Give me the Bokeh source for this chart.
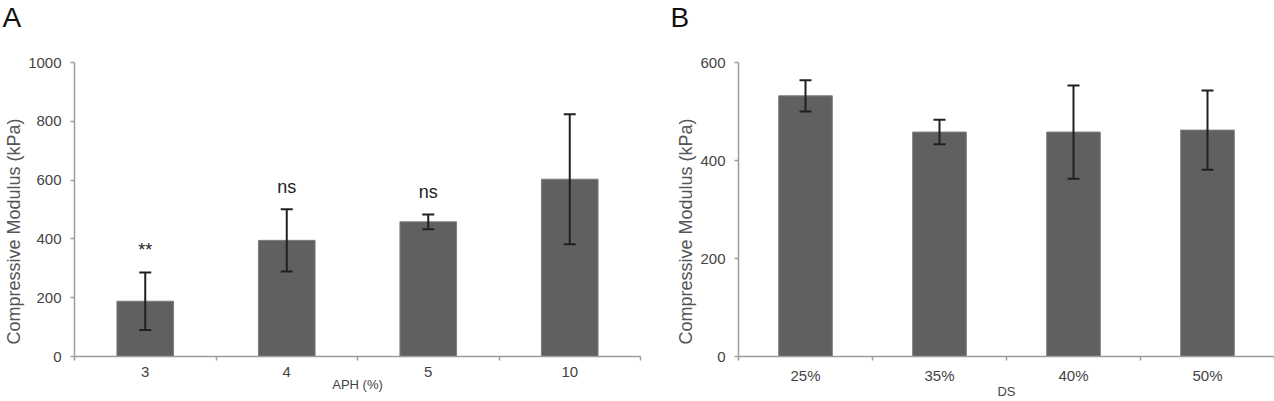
from bokeh.core.properties import value
from bokeh.embed import file_html
from bokeh.layouts import row
from bokeh.models import ColumnDataSource, FixedTicker, Range1d, TeeHead, Title, Whisker
from bokeh.plotting import figure
from bokeh.resources import INLINE

# Panel A: compressive modulus against APH concentration
aph_labels = ["3", "4", "5", "10"]
aph_modulus = [188, 395, 458, 603]
aph_sd = [98, 106, 25, 221]
aph_sig = ["**", "ns", "ns", ""]
aph_y_ticks = [0, 200, 400, 600, 800, 1000]

# Panel B: compressive modulus against DS
ds_labels = ["25%", "35%", "40%", "50%"]
ds_modulus = [532, 458, 458, 462]
ds_sd = [32, 25, 95, 81]
ds_y_ticks = [0, 200, 400, 600]

FONT = "Liberation Sans"
BAR_FILL = "#606060"
BAR_EDGE = "#7c7c7c"
AXIS_GREY = "#9c9c9c"
TICK_TEXT = "#444444"
ERR_COLOR = "#202020"

HEIGHT = 401
BORDER_TOP = 62
BORDER_BOTTOM = 44


def panel(letter, labels, means, sds, y_max, y_ticks, x_title, width,
          border_left, border_right, letter_x, sig=None):
    n = len(labels)
    centers = [i + 0.5 for i in range(n)]

    p = figure(width=width, height=HEIGHT,
               x_range=Range1d(0, n), y_range=Range1d(0, y_max),
               output_backend="svg", toolbar_location=None,
               min_border_left=border_left, min_border_right=border_right,
               min_border_top=BORDER_TOP, min_border_bottom=BORDER_BOTTOM)
    p.outline_line_color = None
    p.xgrid.visible = False
    p.ygrid.visible = False
    p.background_fill_color = "white"
    p.border_fill_color = "white"

    # panel letter in the top-left corner; the blank second line lifts it
    # towards the top edge of the title band
    p.title.text = letter + "\n "
    p.title.align = "left"
    p.title.offset = letter_x - border_left
    p.title.standoff = 0
    p.title.text_line_height = 0.95
    p.title.text_font = FONT
    p.title.text_font_size = "28px"
    p.title.text_font_style = "normal"
    p.title.text_color = "#111111"

    src = ColumnDataSource(dict(
        x=centers, top=means,
        upper=[m + s for m, s in zip(means, sds)],
        lower=[m - s for m, s in zip(means, sds)],
    ))
    p.vbar(x="x", top="top", bottom=0, width=0.4, source=src,
           fill_color=BAR_FILL, line_color=BAR_EDGE, line_width=1)

    head = dict(size=12, line_color=ERR_COLOR, line_width=2)
    whisk = Whisker(source=src, base="x", upper="upper", lower="lower",
                    line_color=ERR_COLOR, line_width=2,
                    upper_head=TeeHead(**head), lower_head=TeeHead(**head))
    whisk.level = "annotation"
    p.add_layout(whisk)

    if sig is not None:
        p.text(x=centers, y=src.data["upper"], text=sig,
               text_align="center", text_baseline="alphabetic", y_offset=-22,
               text_font=value(FONT), text_font_size="18px", text_color="#222222")

    # x axis: category names centred, tick marks on the category boundaries
    xa = p.xaxis[0]
    xa.ticker = FixedTicker(ticks=centers, minor_ticks=list(range(n + 1)))
    xa.major_label_overrides = {c: lab for c, lab in zip(centers, labels)}
    xa.major_tick_line_color = None
    xa.major_tick_out = 0
    xa.major_tick_in = 0
    xa.minor_tick_line_color = AXIS_GREY
    xa.minor_tick_line_width = 1.5
    xa.minor_tick_out = 4
    xa.minor_tick_in = 0
    xa.major_label_standoff = 6
    xa.axis_line_color = AXIS_GREY
    xa.axis_line_width = 1.5
    xa.major_label_text_font = FONT
    xa.major_label_text_font_size = "15px"
    xa.major_label_text_color = TICK_TEXT
    xa.axis_label = x_title
    xa.axis_label_standoff = -3
    xa.axis_label_text_font = FONT
    xa.axis_label_text_font_size = "13px"
    xa.axis_label_text_font_style = "normal"
    xa.axis_label_text_color = TICK_TEXT

    ya = p.yaxis[0]
    ya.ticker = FixedTicker(ticks=y_ticks)
    ya.minor_tick_line_color = None
    ya.major_tick_line_color = AXIS_GREY
    ya.major_tick_line_width = 1.5
    ya.major_tick_out = 4
    ya.major_tick_in = 0
    ya.major_label_standoff = 9
    ya.axis_line_color = AXIS_GREY
    ya.axis_line_width = 1.5
    ya.major_label_text_font = FONT
    ya.major_label_text_font_size = "15px"
    ya.major_label_text_color = TICK_TEXT

    # y axis title, running upward from just above the x axis
    p.add_layout(Title(text="Compressive Modulus (kPa)", align="left", offset=12,
                       standoff=3, text_font=FONT, text_font_size="18px",
                       text_font_style="normal", text_color="#555555"), "left")
    return p


pa = panel("A", aph_labels, aph_modulus, aph_sd, 1000, aph_y_ticks, "APH (%)",
           width=660, border_left=72, border_right=20, letter_x=0, sig=aph_sig)
pb = panel("B", ds_labels, ds_modulus, ds_sd, 600, ds_y_ticks, "DS",
           width=614, border_left=78, border_right=0, letter_x=10)

layout = row(pa, pb)
open("out.html", "w").write(file_html(layout, INLINE))
